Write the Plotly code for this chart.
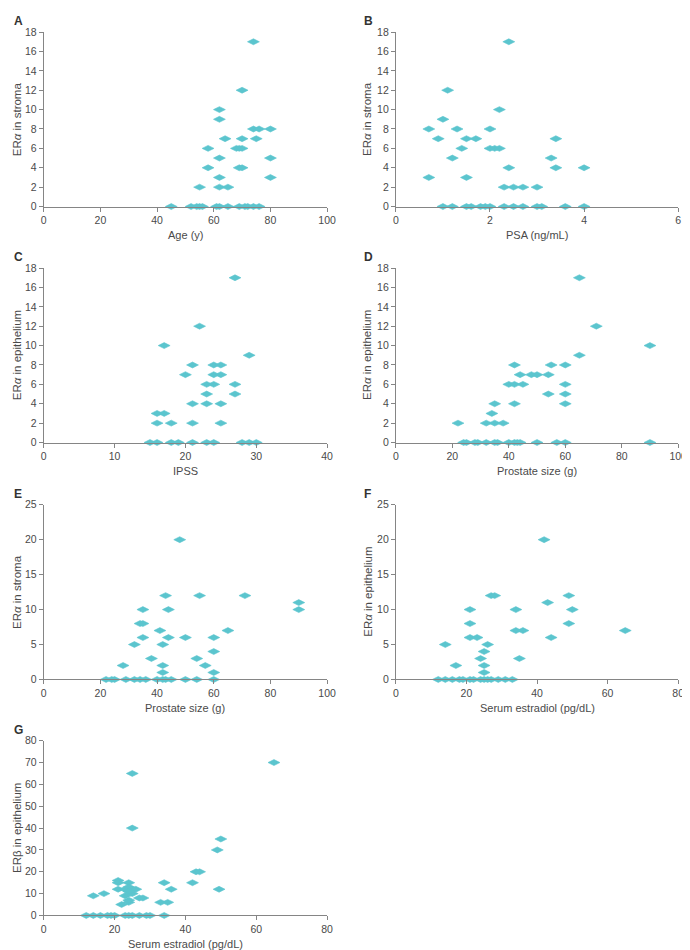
import plotly.graph_objects as go

# ---------------- data ----------------
A_x = [74, 70, 62, 62, 74, 76, 80, 64, 70, 75, 58, 68, 69, 70, 62, 80, 58, 69, 70, 62, 80, 55, 62, 65,
       45, 52, 54, 55, 56, 61, 62, 65, 69, 71, 72, 74, 76]
A_y = [17, 12, 10, 9, 8, 8, 8, 7, 7, 7, 6, 6, 6, 6, 5, 5, 4, 4, 4, 3, 3, 2, 2, 2,
       0, 0, 0, 0, 0, 0, 0, 0, 0, 0, 0, 0, 0]

B_x = [2.4, 1.1, 2.2, 1.0, 0.7, 1.3, 2.0, 0.9, 1.5, 1.7, 3.4, 1.4, 2.0, 2.1, 2.2, 1.2, 3.3, 2.4, 3.4, 4.0,
       0.7, 1.5, 2.3, 2.5, 2.7, 3.0,
       1.0, 1.2, 1.5, 1.6, 1.8, 1.9, 2.0, 2.3, 2.5, 2.7, 3.0, 3.1, 3.6, 4.0]
B_y = [17, 12, 10, 9, 8, 8, 8, 7, 7, 7, 7, 6, 6, 6, 6, 5, 5, 4, 4, 4,
       3, 3, 2, 2, 2, 2,
       0, 0, 0, 0, 0, 0, 0, 0, 0, 0, 0, 0, 0, 0]

C_x = [27, 22, 17, 29, 21, 24, 25, 20, 24, 25, 23, 24, 27, 23, 27, 21, 23, 25, 16, 17, 16, 18, 21, 25,
       15, 16, 18, 19, 21, 23, 24, 28, 29, 30]
C_y = [17, 12, 10, 9, 8, 8, 8, 7, 7, 7, 6, 6, 6, 5, 5, 4, 4, 4, 3, 3, 2, 2, 2, 2,
       0, 0, 0, 0, 0, 0, 0, 0, 0, 0]

D_x = [65, 71, 90, 65, 42, 55, 60, 44, 48, 50, 54, 40, 42, 45, 60, 54, 60, 35, 42, 60, 34, 22, 32, 35, 38,
       24, 25, 28, 29, 32, 35, 36, 40, 42, 43, 44, 50, 57, 60, 90]
D_y = [17, 12, 10, 9, 8, 8, 8, 7, 7, 7, 7, 6, 6, 6, 6, 5, 5, 4, 4, 4, 3, 2, 2, 2, 2,
       0, 0, 0, 0, 0, 0, 0, 0, 0, 0, 0, 0, 0, 0, 0]

E_x = [48, 43, 55, 71, 90, 90, 35, 44, 34, 35, 41, 65, 35, 44, 50, 60, 32, 42, 60, 38, 54, 28, 42, 57, 42, 60,
       22, 24, 25, 29, 32, 34, 36, 40, 42, 43, 45, 50, 54, 60]
E_y = [20, 12, 12, 12, 11, 10, 10, 10, 8, 8, 7, 7, 6, 6, 6, 6, 5, 5, 4, 3, 3, 2, 2, 2, 1, 1,
       0, 0, 0, 0, 0, 0, 0, 0, 0, 0, 0, 0, 0, 0]

F_x = [42, 27, 28, 49, 43, 21, 34, 50, 21, 49, 34, 36, 65, 21, 23, 44, 14, 26, 25, 24, 35, 17, 25, 25,
       12, 14, 16, 18, 19, 21, 22, 24, 25, 26, 27, 29, 31, 33]
F_y = [20, 12, 12, 12, 11, 10, 10, 10, 8, 8, 7, 7, 7, 6, 6, 6, 5, 5, 4, 3, 3, 2, 2, 1,
       0, 0, 0, 0, 0, 0, 0, 0, 0, 0, 0, 0, 0, 0]

G_x = [65, 25, 25, 50, 49, 43, 44, 42, 34, 36, 49.5, 33, 35, 14, 17,
       21, 21, 21, 24, 23, 24, 25, 26, 25, 23, 24, 27, 28, 22, 24, 24,
       12, 14, 16, 18, 19, 20, 23, 24, 25, 27, 29, 30, 34]
G_y = [70, 65, 40, 35, 30, 20, 20, 15, 15, 12, 12, 6, 6, 9, 10,
       16, 15, 12, 15, 12, 13, 12, 12, 10, 9, 11, 8, 8, 5, 6, 7,
       0, 0, 0, 0, 0, 0, 0, 0, 0, 0, 0, 0, 0]

letters = ["A", "B", "C", "D", "E", "F", "G"]
x_titles = ["Age (y)", "PSA (ng/mL)", "IPSS", "Prostate size (g)", "Prostate size (g)",
            "Serum estradiol (pg/dL)", "Serum estradiol (pg/dL)"]
y_titles = ["ER<i>α</i> in stroma", "ER<i>α</i> in stroma", "ER<i>α</i> in epithelium",
            "ER<i>α</i> in epithelium", "ER<i>α</i> in stroma", "ER<i>α</i> in epithelium",
            "ERβ in epithelium"]
x_ranges = [(0, 100, 20), (0, 6, 2), (0, 40, 10), (0, 100, 20), (0, 100, 20), (0, 80, 20), (0, 80, 20)]
y_ranges = [(0, 18, 2), (0, 18, 2), (0, 18, 2), (0, 18, 2), (0, 25, 5), (0, 25, 5), (0, 80, 10)]
xs = [A_x, B_x, C_x, D_x, E_x, F_x, G_x]
ys = [A_y, B_y, C_y, D_y, E_y, F_y, G_y]

# ---------------- layout geometry ----------------
W, H = 690, 950
col_px = [(33.3, 321.7), (391.7, 679.0)]
row_px = [(18.3, 195.0), (257.3, 434.0), (497.0, 674.0), (736.0, 913.0)]

COLOR = "#5bc5ce"
AXC = "#858585"
TXT = "#4a4a4a"
FONT = "Liberation Sans, Arial, sans-serif"

fig = go.Figure()
annotations = []

for i in range(7):
    r, c = divmod(i, 2)
    x0, x1 = col_px[c]
    t, b = row_px[r]
    xd = [x0 / W, x1 / W]
    yd = [1 - b / H, 1 - t / H]
    n = "" if i == 0 else str(i + 1)
    fig.add_trace(go.Scatter(
        x=xs[i], y=ys[i], mode="markers", xaxis="x" + n, yaxis="y" + n,
        marker=dict(symbol="diamond-wide", size=8.5, color=COLOR, line=dict(width=0.6, color=COLOR)),
        cliponaxis=False, showlegend=False, hoverinfo="x+y"))
    xr, yr = x_ranges[i], y_ranges[i]
    common = dict(showgrid=False, zeroline=False, showline=True, linecolor=AXC, linewidth=1,
                  ticks="outside", ticklen=4, tickwidth=1, tickcolor=AXC,
                  tickfont=dict(family=FONT, size=10.5, color=TXT), fixedrange=True)
    fig.update_layout(**{
        "xaxis" + n: dict(domain=xd, range=[xr[0], xr[1]], dtick=xr[2], tick0=0,
                          anchor="y" + n, **common),
        "yaxis" + n: dict(domain=yd, range=[yr[0], yr[1]], dtick=yr[2], tick0=0,
                          anchor="x" + n, **common),
    })
    # panel letter
    annotations.append(dict(text="<b>" + letters[i] + "</b>", xref="paper", yref="paper",
                            x=(1 if c == 0 else 357) / W, y=1 - (t - 11) / H,
                            xanchor="left", yanchor="middle", showarrow=False,
                            font=dict(family=FONT, size=12, color="#333333")))
    # x title
    annotations.append(dict(text=x_titles[i], xref="paper", yref="paper",
                            x=(x0 + x1) / 2 / W, y=1 - (b + 29) / H,
                            xanchor="center", yanchor="middle", showarrow=False,
                            font=dict(family=FONT, size=11, color=TXT)))
    # y title
    annotations.append(dict(text=y_titles[i], xref="paper", yref="paper",
                            x=(6 if c == 0 else 363) / W, y=1 - (t + b) / 2 / H,
                            xanchor="center", yanchor="middle", textangle=-90, showarrow=False,
                            font=dict(family=FONT, size=11.5, color=TXT)))

fig.update_layout(width=W, height=H, margin=dict(l=0, r=0, t=0, b=0),
                  paper_bgcolor="white", plot_bgcolor="white",
                  annotations=annotations, showlegend=False)

fig.write_html("out.html")
